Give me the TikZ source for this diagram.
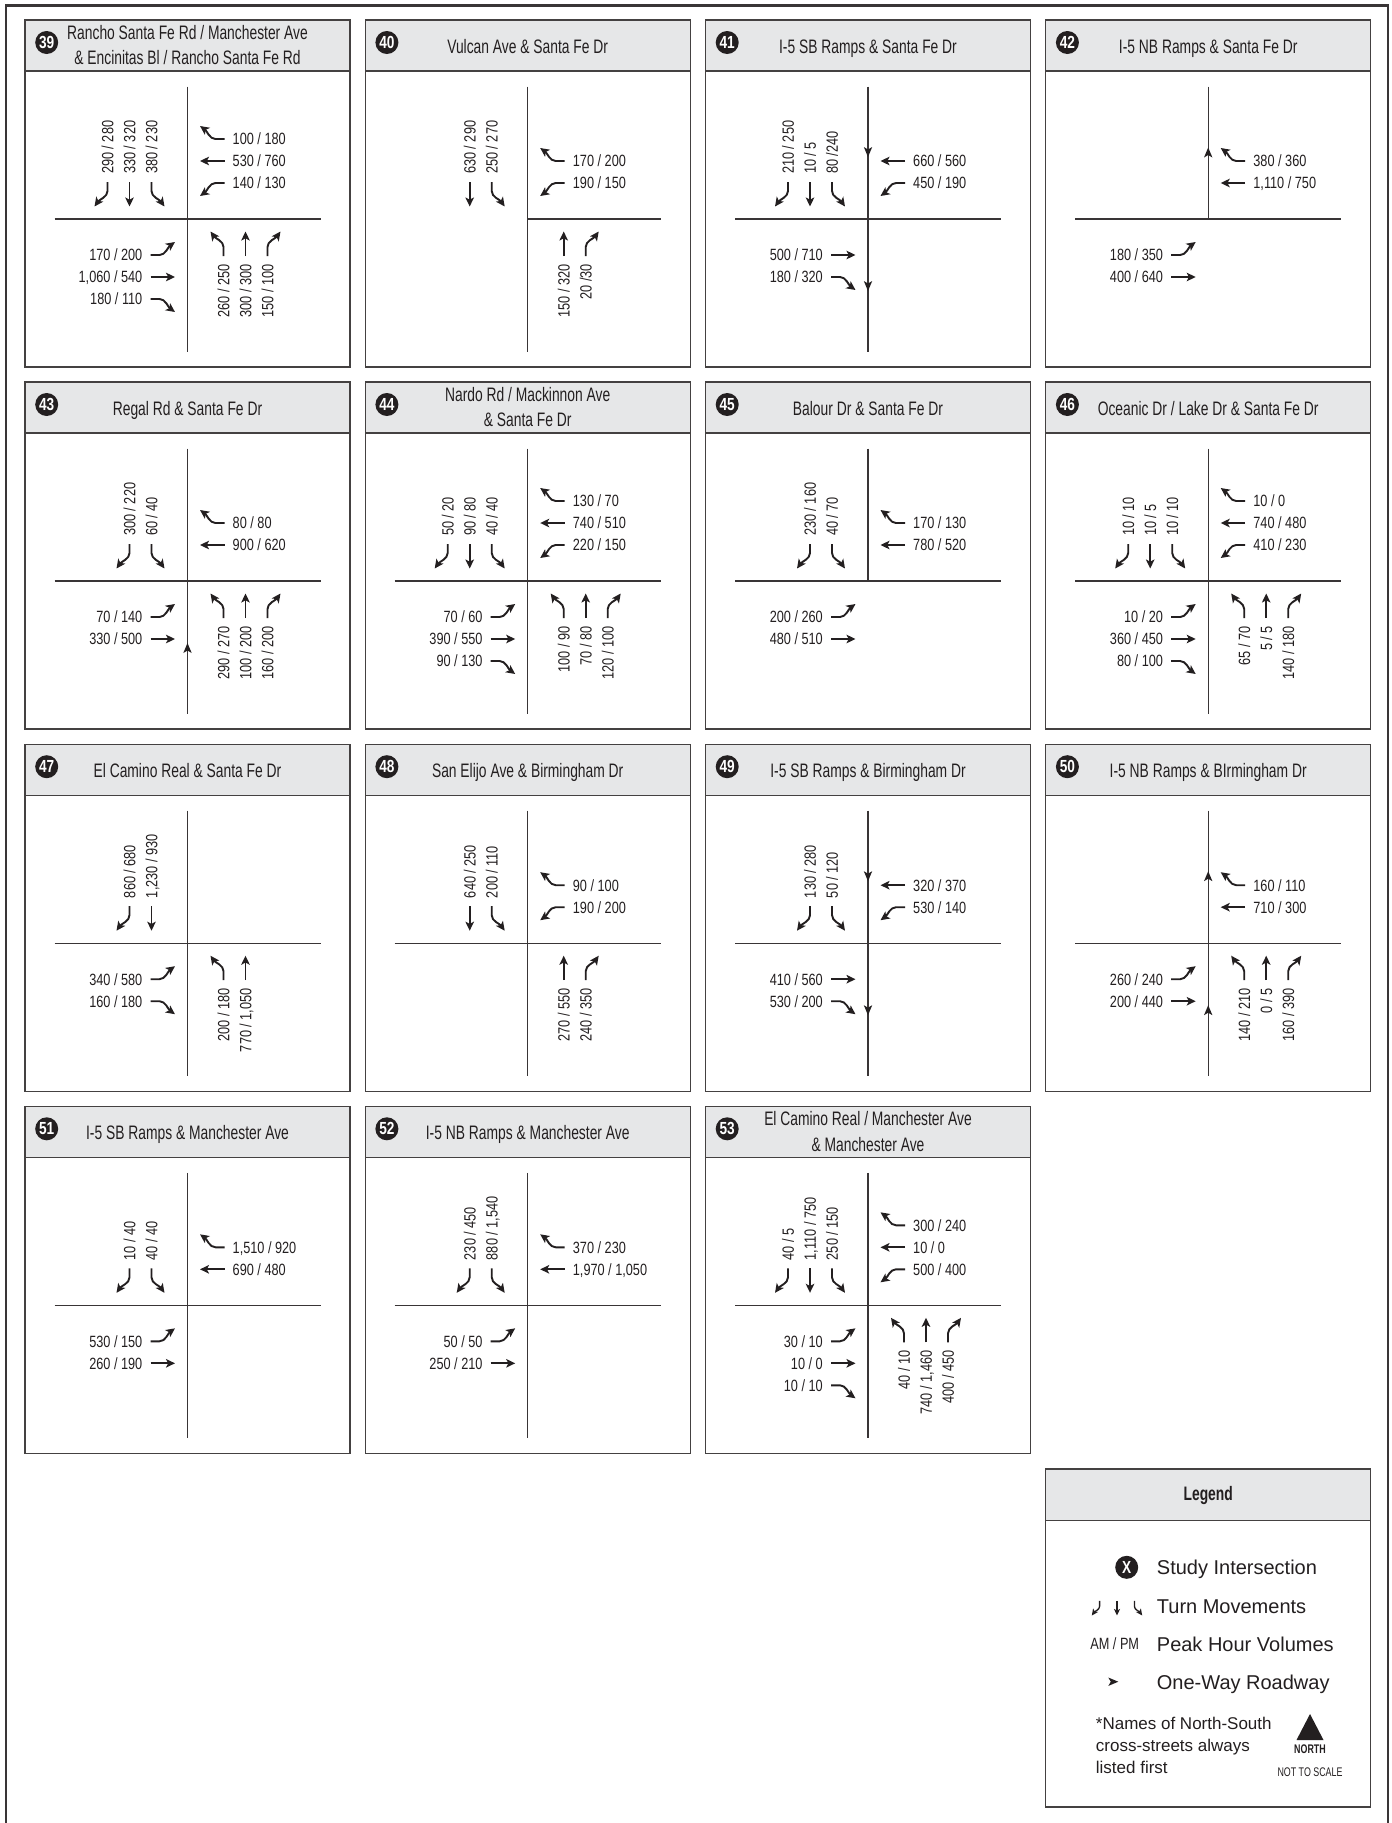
\documentclass[tikz,border=0pt]{standalone}
\usepackage{fontspec}
\setmainfont{Liberation Sans}
\newfontfamily\numfont[FakeStretch=0.78]{Liberation Sans}
\newfontfamily\headfont[FakeStretch=0.71]{Liberation Sans}
\usetikzlibrary{arrows.meta}
\definecolor{ink}{RGB}{35,31,32}
\definecolor{headgray}{RGB}{230,231,232}

% turn arrows, drawn for a northbound lane at offset #1
\newcommand\mvT[1]{\draw[turn] (#1,37) -- (#1,12.5);}
\newcommand\mvL[1]{\draw[turn] (#1,37) -- (#1,28) .. controls (#1,22) and (#1-8,19.5) .. (#1-13,12.5);}
\newcommand\mvR[1]{\draw[turn] (#1,37) -- (#1,28) .. controls (#1,22) and (#1+8,19.5) .. (#1+13,12.5);}

% one approach: rotation, label options, tag, lanes (left, through, right from the centre line)
\newcommand\approach[4]{%
  \begin{scope}[rotate=#1]
    \foreach \mv/\vol [count=\k] in {#4}{
      \pgfmathsetmacro\lx{14+22*\k}
      \csname mv\mv\endcsname{\lx}
      \node[volume,#2] (\pid#3\k) at (\lx,44) {\vol};
    }
  \end{scope}}
\newcommand\sbapp[1]{\approach{180}{rotate=90,anchor=west}{s}{#1}}
\newcommand\wbapp[1]{\approach{90}{anchor=west}{w}{#1}}
\newcommand\nbapp[1]{\approach{0}{rotate=90,anchor=east}{n}{#1}}
\newcommand\ebapp[1]{\approach{-90}{anchor=east}{e}{#1}}

% roads
\newcommand\roadV{\draw[road] (0,-132.5) -- (0,132.5);}
\newcommand\roadN{\draw[road] (0,-132.5) -- (0,0);}
\newcommand\roadH{\draw[road] (-133,0) -- (133,0);}
\newcommand\roadE{\draw[road] (0,0) -- (133,0);}

% panel: x, y (top left), number, title, second title line, contents
\newcommand\panel[6]{%
  \begin{scope}[shift={(#1+162.5,#2+199)}]
    \def\pid{p#3}
    \draw[frame] (-162.5,-199) rectangle (162.5,148);
    \draw[frame,fill=headgray] (-162.5,-199) rectangle (162.5,-148);
    \node[badge] (p#3b) at (-140.8,-176.5) {#3};
    \if\relax\detokenize{#5}\relax
      \node[title] (p#3t) at (0,-165.7) {#4};
    \else
      \node[title] (p#3t) at (0,-179.7) {#4};
      \node[title] (p#3u) at (0,-154.2) {#5};
    \fi
    #6
  \end{scope}}

\begin{document}
\begin{tikzpicture}[x=1pt,y=-1pt,
  frame/.style={line width=1.3pt,draw=ink!85},
  road/.style={line width=1.4pt,draw=ink!90},
  turn/.style={line width=1.9pt,draw=ink,-{Stealth[length=9pt,width=8.5pt,inset=2.2pt]}},
  volume/.style={font=\numfont\fontsize{16.3}{18}\selectfont,text=ink,inner sep=1pt,text height=11.7pt,text depth=0pt},
  title/.style={font=\headfont\fontsize{19.5}{24}\selectfont,text=ink,anchor=base,inner sep=0pt},
  badge/.style={circle,fill=ink,text=white,minimum size=23pt,inner sep=0pt,font=\numfont\bfseries\fontsize{17.5}{17.5}\selectfont},
  legtxt/.style={font=\fontsize{20}{24}\selectfont,text=ink,anchor=base west,inner sep=0pt},
  oneway/.pic={\fill[ink] (5,0) -- (-5,-4.2) -- (-2.5,0) -- (-5,4.2) -- cycle;}]
  \useasboundingbox (0,0) rectangle (1392,1823);
  \fill[white] (0,0) rectangle (1392,1823);
  \draw[line width=2.4pt,draw=ink!90] (6.2,1823) -- (6.2,5.3) -- (1388,5.3) -- (1388,1823);

  % row 1
  \panel{25}{20}{39}{Rancho Santa Fe Rd / Manchester Ave}{\& Encinitas Bl / Rancho Santa Fe Rd}{%
    \roadV \roadH
    \sbapp{L/{380 / 230},T/{330 / 320},R/{290 / 280}}
    \wbapp{L/{140 / 130},T/{530 / 760},R/{100 / 180}}
    \nbapp{L/{260 / 250},T/{300 / 300},R/{150 / 100}}
    \ebapp{L/{170 / 200},T/{1,060 / 540},R/{180 / 110}}}
  \panel{365.2}{20}{40}{Vulcan Ave \& Santa Fe Dr}{}{%
    \roadV \roadE
    \sbapp{L/{250 / 270},T/{630 / 290}}
    \wbapp{L/{190 / 150},R/{170 / 200}}
    \nbapp{T/{150 / 320},R/{20 /30}}}
  \panel{705.5}{20}{41}{I-5 SB Ramps \& Santa Fe Dr}{}{%
    \roadV \roadH
    \pic[rotate=-90] at (0,-67) {oneway};
    \pic[rotate=-90] at (0,67) {oneway};
    \sbapp{L/{80 /240},T/{10 / 5},R/{210 / 250}}
    \wbapp{L/{450 / 190},T/{660 / 560}}
    \ebapp{T/{500 / 710},R/{180 / 320}}}
  \panel{1045.7}{20}{42}{I-5 NB Ramps \& Santa Fe Dr}{}{%
    \roadN \roadH
    \pic[rotate=90] at (0,-66.5) {oneway};
    \wbapp{T/{1,110 / 750},R/{380 / 360}}
    \ebapp{L/{180 / 350},T/{400 / 640}}}

  % row 2
  \panel{25}{382}{43}{Regal Rd \& Santa Fe Dr}{}{%
    \roadV \roadH
    \pic[rotate=90] at (0,67) {oneway};
    \sbapp{L/{60 / 40},R/{300 / 220}}
    \wbapp{T/{900 / 620},R/{80 / 80}}
    \nbapp{L/{290 / 270},T/{100 / 200},R/{160 / 200}}
    \ebapp{L/{70 / 140},T/{330 / 500}}}
  \panel{365.2}{382}{44}{Nardo Rd / Mackinnon Ave}{\& Santa Fe Dr}{%
    \roadV \roadH
    \sbapp{L/{40 / 40},T/{90 / 80},R/{50 / 20}}
    \wbapp{L/{220 / 150},T/{740 / 510},R/{130 / 70}}
    \nbapp{L/{100 / 90},T/{70 / 80},R/{120 / 100}}
    \ebapp{L/{70 / 60},T/{390 / 550},R/{90 / 130}}}
  \panel{705.5}{382}{45}{Balour Dr \& Santa Fe Dr}{}{%
    \roadN \roadH
    \sbapp{L/{40 / 70},R/{230 / 160}}
    \wbapp{T/{780 / 520},R/{170 / 130}}
    \ebapp{L/{200 / 260},T/{480 / 510}}}
  \panel{1045.7}{382}{46}{Oceanic Dr / Lake Dr \& Santa Fe Dr}{}{%
    \roadV \roadH
    \sbapp{L/{10 / 10},T/{10 / 5},R/{10 / 10}}
    \wbapp{L/{410 / 230},T/{740 / 480},R/{10 / 0}}
    \nbapp{L/{65 / 70},T/{5 / 5},R/{140 / 180}}
    \ebapp{L/{10 / 20},T/{360 / 450},R/{80 / 100}}}

  % row 3
  \panel{25}{744.2}{47}{El Camino Real \& Santa Fe Dr}{}{%
    \roadV \roadH
    \sbapp{T/{1,230 / 930},R/{860 / 680}}
    \nbapp{L/{200 / 180},T/{770 / 1,050}}
    \ebapp{L/{340 / 580},R/{160 / 180}}}
  \panel{365.2}{744.2}{48}{San Elijo Ave \& Birmingham Dr}{}{%
    \roadV \roadH
    \sbapp{L/{200 / 110},T/{640 / 250}}
    \wbapp{L/{190 / 200},R/{90 / 100}}
    \nbapp{T/{270 / 550},R/{240 / 350}}}
  \panel{705.5}{744.2}{49}{I-5 SB Ramps \& Birmingham Dr}{}{%
    \roadV \roadH
    \pic[rotate=-90] at (0,-67) {oneway};
    \pic[rotate=-90] at (0,67) {oneway};
    \sbapp{L/{50 / 120},R/{130 / 280}}
    \wbapp{L/{530 / 140},T/{320 / 370}}
    \ebapp{T/{410 / 560},R/{530 / 200}}}
  \panel{1045.7}{744.2}{50}{I-5 NB Ramps \& BIrmingham Dr}{}{%
    \roadV \roadH
    \pic[rotate=90] at (0,-67) {oneway};
    \pic[rotate=90] at (0,67) {oneway};
    \wbapp{T/{710 / 300},R/{160 / 110}}
    \nbapp{L/{140 / 210},T/{0 / 5},R/{160 / 390}}
    \ebapp{L/{260 / 240},T/{200 / 440}}}

  % row 4
  \panel{25}{1106.3}{51}{I-5 SB Ramps \& Manchester Ave}{}{%
    \roadV \roadH
    \sbapp{L/{40 / 40},R/{10 / 40}}
    \wbapp{T/{690 / 480},R/{1,510 / 920}}
    \ebapp{L/{530 / 150},T/{260 / 190}}}
  \panel{365.2}{1106.3}{52}{I-5 NB Ramps \& Manchester Ave}{}{%
    \roadV \roadH
    \sbapp{L/{880 / 1,540},R/{230 / 450}}
    \wbapp{T/{1,970 / 1,050},R/{370 / 230}}
    \ebapp{L/{50 / 50},T/{250 / 210}}}
  \panel{705.5}{1106.3}{53}{El Camino Real / Manchester Ave}{\& Manchester Ave}{%
    \roadV \roadH
    \sbapp{L/{250 / 150},T/{1,110 / 750},R/{40 / 5}}
    \wbapp{L/{500 / 400},T/{10 / 0},R/{300 / 240}}
    \nbapp{L/{40 / 10},T/{740 / 1,460},R/{400 / 450}}
    \ebapp{L/{30 / 10},T/{10 / 0},R/{10 / 10}}}

  % legend
  \draw[frame] (1045.7,1469) rectangle (1370.7,1807);
  \draw[frame,fill=headgray] (1045.7,1469) rectangle (1370.7,1520.5);
  \node[font=\headfont\bfseries\fontsize{19.5}{24}\selectfont,text=ink] (lgd) at (1208.2,1495) {Legend};
  \node[badge] (lgx) at (1126.7,1567.3) {X};
  \node[legtxt] (lg1) at (1156.7,1574.3) {Study Intersection};
  \begin{scope}[shift={(1117,1623)},rotate=180,scale=0.6,
      turn/.style={line width=1.3pt,draw=ink,-{Stealth[length=6.5pt,width=6pt,inset=1.6pt]}}]
    \mvR{29} \mvT{0} \mvL{-29}
  \end{scope}
  \node[legtxt] (lg2) at (1156.7,1613.1) {Turn Movements};
  \node[volume] (lgam) at (1114.7,1644) {AM / PM};
  \node[legtxt] (lg3) at (1156.7,1651.2) {Peak Hour Volumes};
  \pic at (1113.3,1681.7) {oneway};
  \node[legtxt] (lg4) at (1156.7,1689.3) {One-Way Roadway};
  \node[font=\fontsize{17}{22}\selectfont,text=ink,align=left,anchor=north west,inner sep=0pt]
    (lgnote) at (1095.7,1716.5) {*Names of North-South\\cross-streets always\\listed first};
  \fill[ink] (1310,1714) -- (1323.5,1740) -- (1296.5,1740) -- cycle;
  \node[font=\headfont\bfseries\fontsize{12.5}{14}\selectfont,text=ink] (north) at (1310,1749) {NORTH};
  \node[font=\headfont\fontsize{12.5}{14}\selectfont,text=ink] (nts) at (1310,1772) {NOT TO SCALE};
\end{tikzpicture}
\end{document}
